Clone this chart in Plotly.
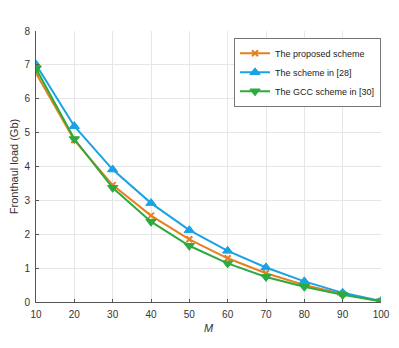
import plotly.graph_objects as go

# Data
M = [10, 20, 30, 40, 50, 60, 70, 80, 90, 100]
proposed = [6.75, 4.78, 3.45, 2.55, 1.85, 1.29, 0.85, 0.50, 0.24, 0.02]
scheme28 = [7.01, 5.19, 3.91, 2.92, 2.12, 1.51, 1.02, 0.61, 0.27, 0.03]
gcc30 = [6.89, 4.81, 3.37, 2.37, 1.66, 1.14, 0.74, 0.45, 0.21, 0.02]

names = ["The proposed scheme", "The scheme in [28]", "The GCC scheme in [30]"]
colors = ["#E6801E", "#1AA3E3", "#2DAA3E"]
symbols = ["x-thin", "triangle-up", "triangle-down"]

fig = go.Figure()
for name, ys, c, s in zip(names, [proposed, scheme28, gcc30], colors, symbols):
    marker = dict(symbol=s, size=9, color=c, line=dict(color=c, width=1))
    if s == "x-thin":
        marker = dict(symbol=s, size=6, color=c, line=dict(color=c, width=2))
    fig.add_trace(go.Scatter(x=M, y=ys, name=name, mode="lines+markers",
                             line=dict(color=c, width=2), marker=marker))

axis_common = dict(showgrid=True, gridcolor="#e6e6e6", gridwidth=1,
                   showline=True, linecolor="#555555", linewidth=1,
                   ticks="inside", ticklen=3, tickcolor="#555555",
                   tickfont=dict(size=10, color="#333333"), zeroline=False,
                   automargin=False, ticklabelstandoff=3)

fig.update_xaxes(range=[10, 100], dtick=10,
                 title=dict(text="<i>M</i>", font=dict(size=11, color="#333333"), standoff=5),
                 **axis_common)
fig.update_yaxes(range=[0, 8], dtick=1,
                 title=dict(text="Fronthaul load (Gb)", font=dict(size=11, color="#333333"), standoff=4),
                 **axis_common)

# page body adds an 8px offset, so the figure is sized to fit inside it
fig.update_layout(
    width=391, height=340,
    margin=dict(l=28, r=18, t=23, b=46),
    plot_bgcolor="white", paper_bgcolor="white",
    font=dict(family="Liberation Sans, Arial", size=10, color="#333333"),
    legend=dict(x=1.0, y=0.975, xanchor="right", yanchor="top",
                bgcolor="white", bordercolor="#777777", borderwidth=1,
                font=dict(size=9, color="#222222"),
                tracegroupgap=0, itemwidth=30),
    showlegend=True,
)

fig.write_html("out.html")
